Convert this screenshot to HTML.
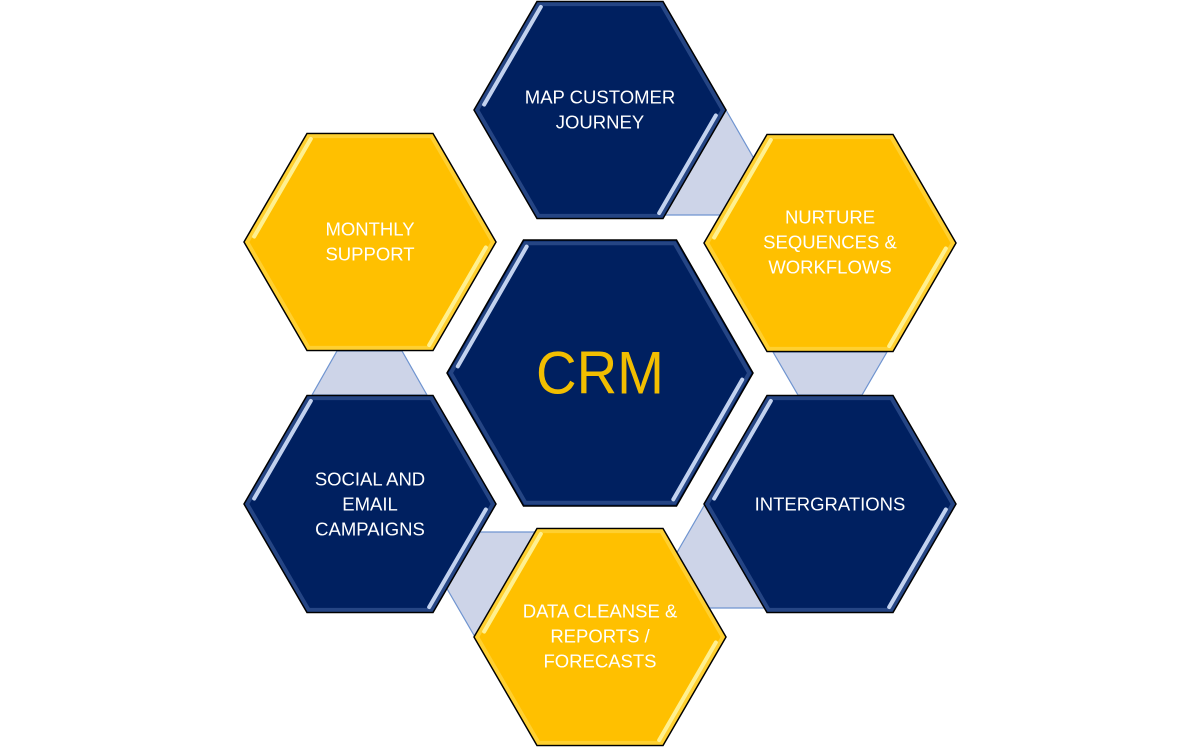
<!DOCTYPE html>
<html><head><meta charset="utf-8"><style>
html,body{margin:0;padding:0;background:#fff;width:1200px;height:748px;overflow:hidden}
svg{display:block}
text{font-family:"Liberation Sans",sans-serif;text-anchor:middle;dominant-baseline:central}
</style></head><body>
<svg id="s" width="1200" height="748" viewBox="0 0 1200 748" xmlns="http://www.w3.org/2000/svg">
<defs>
<filter id="ig" x="-5%" y="-5%" width="110%" height="110%">
<feGaussianBlur in="SourceAlpha" stdDeviation="3"/>
</filter>
</defs>
<g fill="#cdd4e8" stroke="#6f94d0" stroke-width="1.2">
<polygon points="726,110 772,190 772,215 664,215"/>
<polygon points="773,352 887,352 862,395 798,395"/>
<polygon points="337,351 402,351 427,395 312,395"/>
<polygon points="475,637 428,556 428,532 537,532"/>
<polygon points="705,504 668,568 690,608 770,608"/>
</g>
<g id="hexes"></g>
<g fill="#fff" font-size="18.5">
<text x="600" y="97">MAP CUSTOMER</text>
<text x="600" y="122">JOURNEY</text>
<text x="830" y="217">NURTURE</text>
<text x="830" y="242">SEQUENCES &amp;</text>
<text x="830" y="267">WORKFLOWS</text>
<text x="830" y="504">INTERGRATIONS</text>
<text x="600" y="611">DATA CLEANSE &amp;</text>
<text x="600" y="636">REPORTS /</text>
<text x="600" y="661">FORECASTS</text>
<text x="370" y="479">SOCIAL AND</text>
<text x="370" y="504">EMAIL</text>
<text x="370" y="529">CAMPAIGNS</text>
<text x="370" y="229">MONTHLY</text>
<text x="370" y="254">SUPPORT</text>
</g>
<text x="600" y="373" fill="#f2be00" font-size="60" textLength="128" lengthAdjust="spacingAndGlyphs">CRM</text>
</svg>
<script>
(function(){
var g=document.getElementById('hexes');var NS='http://www.w3.org/2000/svg';
var N='#002060',Y='#ffc000';
var list=[[600,110,252,217,N],[830,243,252,217,Y],[830,504,252,217,N],[600,637,252,217,Y],[370,504,252,217,N],[370,242,252,217,Y],[600,373,306,266,N]];
var html='';
list.forEach(function(h){
var cx=h[0],cy=h[1],w=h[2],hh=h[3],c=h[4];
var p=[[cx-w/2,cy],[cx-w/4,cy-hh/2],[cx+w/4,cy-hh/2],[cx+w/2,cy],[cx+w/4,cy+hh/2],[cx-w/4,cy+hh/2]].map(function(a){return a[0]+','+a[1]}).join(' ');
var inner=c==N?'#4a6aa8':'#ffe060';
var hl=c==N?'#d8e6ff':'#fff6a0';
html+='<polygon points="'+p+'" fill="'+c+'" stroke="#000" stroke-width="1.5"/>';
html+='<polygon points="'+p+'" fill="none" stroke="'+inner+'" stroke-width="4" opacity="0.5" transform="translate('+cx+','+cy+') scale(0.975) translate('+(-cx)+','+(-cy)+')"/>';
var ex=w/4,ey=-hh/2,ox=7;
var x1=cx-w/2+0.05*ex+ox,y1=cy+0.05*ey,x2=cx-w/2+0.95*ex+ox,y2=cy+0.95*ey;
html+='<line x1="'+x1+'" y1="'+y1+'" x2="'+x2+'" y2="'+y2+'" stroke="'+hl+'" stroke-width="4" stroke-linecap="round" opacity="0.9"/>';
html+='<line x1="'+(2*cx-x1)+'" y1="'+(2*cy-y1)+'" x2="'+(2*cx-x2)+'" y2="'+(2*cy-y2)+'" stroke="'+hl+'" stroke-width="4" stroke-linecap="round" opacity="0.9"/>';
});
g.innerHTML=html;
})();
</script>
</body></html>
